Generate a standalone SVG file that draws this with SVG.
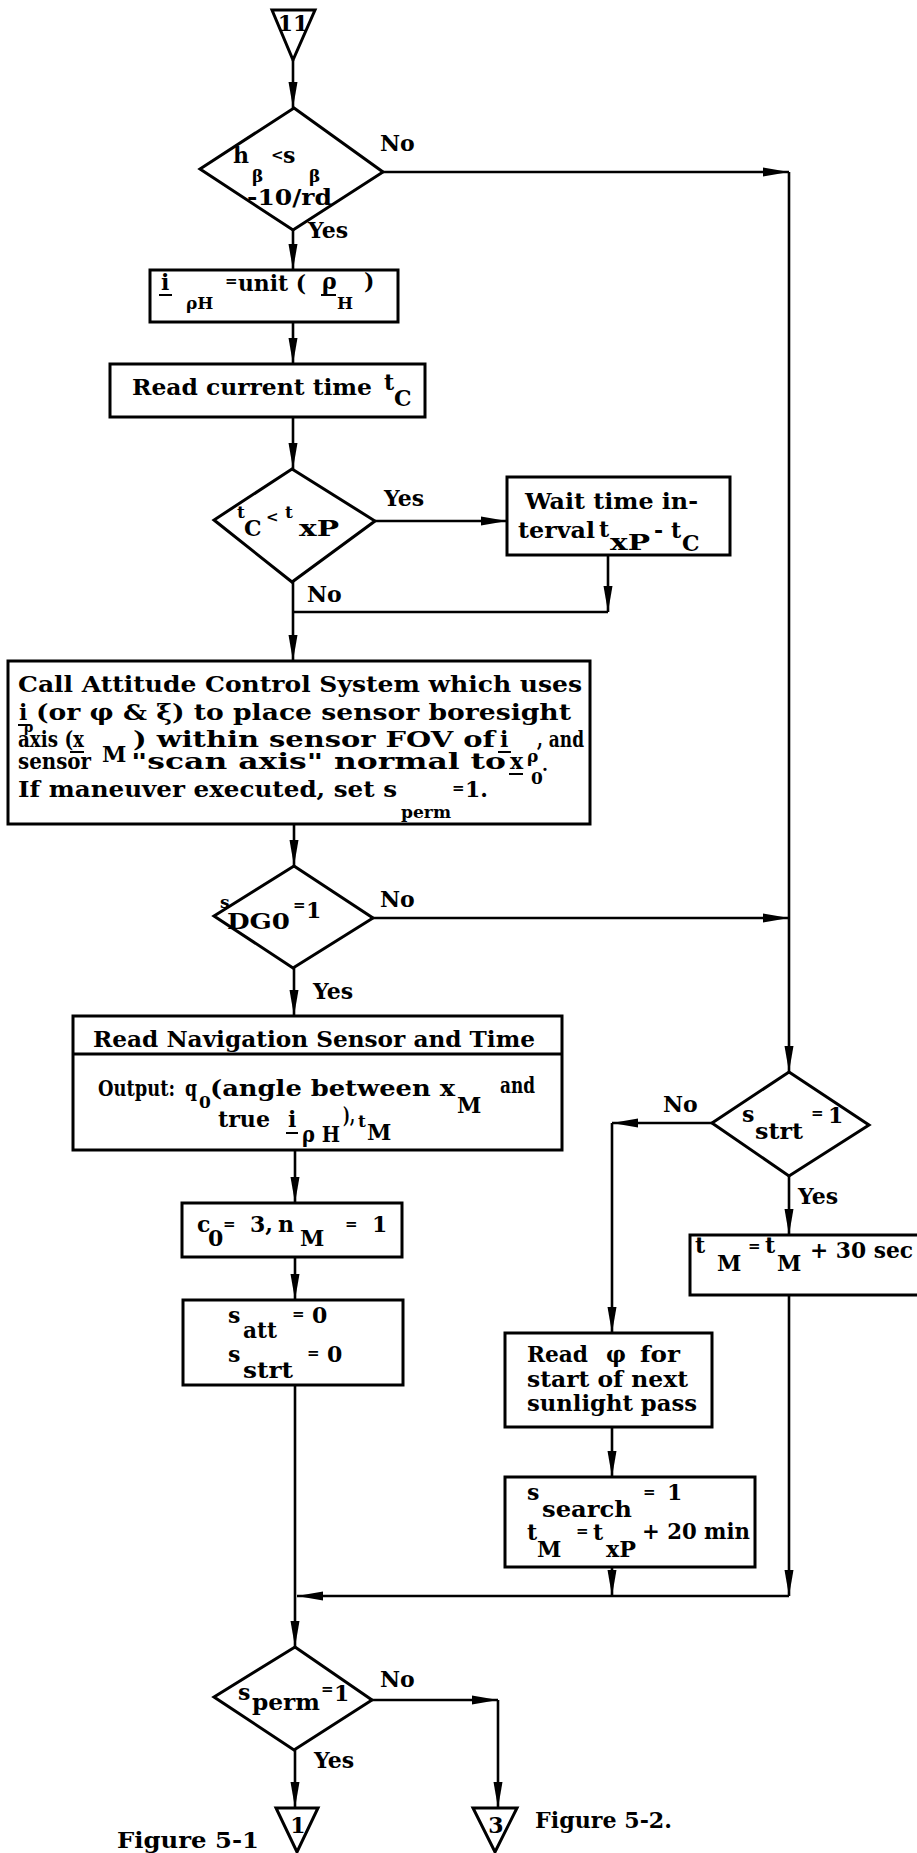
<svg xmlns="http://www.w3.org/2000/svg" width="917" height="1853" viewBox="0 0 917 1853">
<style>
 .bx{fill:#fff;stroke:#000;stroke-width:3}
 .ln{fill:none;stroke:#000;stroke-width:2.6}
 .ar{marker-end:url(#ah)}
 text{font-family:"DejaVu Serif","Liberation Serif",serif;font-weight:bold;fill:#000;stroke:none}
 .m{font-size:22px}
 .sb{font-size:17px}
 .eq{font-size:15px}
 .ul{stroke:#000;stroke-width:2}
 .dv{stroke:#000;stroke-width:3}
</style>
<defs>
<marker id="ah" markerUnits="userSpaceOnUse" markerWidth="26" markerHeight="10" refX="26" refY="5" orient="auto">
<path d="M0,0.5 L26,5 L0,9.5 Z" fill="#000"/>
</marker>
</defs>
<rect width="917" height="1853" fill="#fff"/>

<g id="connectors" class="ln">
<path class="ar" d="M293,60 V108"/>
<path class="ar" d="M293,230 V270"/>
<path class="ar" d="M293,322 V364"/>
<path class="ar" d="M293,417 V469"/>
<path class="ar" d="M375,521 H507"/>
<path class="ar" d="M608,555 V612"/>
<path d="M608,612 H293"/>
<path class="ar" d="M293,582 V661"/>
<path class="ar" d="M294,824 V866"/>
<path class="ar" d="M373,918 H789"/>
<path class="ar" d="M383,172 H789"/>
<path class="ar" d="M789,172 V1072"/>
<path class="ar" d="M294,968 V1016"/>
<path class="ar" d="M295,1150 V1203"/>
<path class="ar" d="M295,1257 V1300"/>
<path d="M295,1385 V1596"/>
<path class="ar" d="M295,1596 V1647"/>
<path class="ar" d="M712,1123 H612"/>
<path class="ar" d="M612,1123 V1333"/>
<path class="ar" d="M789,1176 V1235"/>
<path class="ar" d="M789,1295 V1596"/>
<path class="ar" d="M612,1427 V1477"/>
<path class="ar" d="M612,1567 V1596"/>
<path class="ar" d="M789,1596 H297"/>
<path class="ar" d="M295,1750 V1808"/>
<path class="ar" d="M372,1700 H498"/>
<path class="ar" d="M498,1700 V1808"/>
<g id="edge-labels">
<text class="m" x="380" y="151">No</text>
<text class="m" x="308" y="238">Yes</text>
<text class="m" x="384" y="506">Yes</text>
<text class="m" x="307" y="602">No</text>
<text class="m" x="380" y="907">No</text>
<text class="m" x="313" y="999">Yes</text>
<text class="m" x="663" y="1112">No</text>
<text class="m" x="798" y="1204">Yes</text>
<text class="m" x="380" y="1687">No</text>
<text class="m" x="314" y="1768">Yes</text>
</g>
</g>

<g id="t11">
<path class="bx" d="M272,10 H315 L293,60 Z"/>
<text class="m" x="293" y="31" text-anchor="middle">11</text>
</g>

<g id="d1">
<path class="bx" d="M294,108 L383,172 L293,230 L200,169 Z"/>
<text class="m" x="233" y="163">h</text>
<text class="sb" x="252" y="182">β</text>
<text class="eq" x="271" y="160">&lt;</text>
<text class="m" x="283" y="163">s</text>
<text class="sb" x="309" y="182">β</text>
<text class="m" x="247" y="205" textLength="85" lengthAdjust="spacingAndGlyphs">-10/rd</text>
</g>

<g id="b1">
<rect class="bx" x="150" y="270" width="248" height="52"/>
<text class="m" x="161" y="290">i</text>
<line class="ul" x1="159" y1="295" x2="172" y2="295"/>
<text class="sb" x="186" y="309">ρH</text>
<text class="eq" x="225" y="286">=</text>
<text class="m" x="238" y="291" textLength="68" lengthAdjust="spacingAndGlyphs">unit (</text>
<text class="m" x="322" y="289">ρ</text>
<line class="ul" x1="321" y1="295" x2="336" y2="295"/>
<text class="sb" x="337" y="309">H</text>
<text class="m" x="364" y="289">)</text>
</g>

<g id="b2">
<rect class="bx" x="110" y="364" width="315" height="53"/>
<text class="m" x="132" y="395" textLength="240" lengthAdjust="spacingAndGlyphs">Read current time</text>
<text class="m" x="384" y="390">t</text>
<text class="m" x="394" y="406">C</text>
</g>

<g id="d2">
<path class="bx" d="M292,469 L375,521 L292,582 L214,520 Z"/>
<text class="sb" x="237" y="518">t</text>
<text class="m" x="244" y="536">C</text>
<text class="eq" x="266" y="522">&lt;</text>
<text class="sb" x="285" y="518">t</text>
<text class="m" x="299" y="536" textLength="40" lengthAdjust="spacingAndGlyphs">xP</text>
</g>

<g id="wait">
<rect class="bx" x="507" y="477" width="223" height="78"/>
<text class="m" x="525" y="509" textLength="173" lengthAdjust="spacingAndGlyphs">Wait time in-</text>
<text class="m" x="518" y="538" textLength="77" lengthAdjust="spacingAndGlyphs">terval</text>
<text class="m" x="599" y="537">t</text>
<text class="m" x="610" y="550" textLength="40" lengthAdjust="spacingAndGlyphs">xP</text>
<text class="m" x="654" y="538">-</text>
<text class="m" x="671" y="538">t</text>
<text class="m" x="682" y="551">C</text>
</g>

<g id="call">
<rect class="bx" x="8" y="661" width="582" height="163"/>
<text class="m" x="18" y="692" textLength="564" lengthAdjust="spacingAndGlyphs">Call Attitude Control System which uses</text>
<text class="m" x="19" y="720">i</text>
<line class="ul" x1="18" y1="725" x2="30" y2="725"/>
<text x="24" y="732" font-size="14">ρ</text>
<text class="m" x="36" y="720" textLength="535" lengthAdjust="spacingAndGlyphs">(or φ &amp; ξ) to place sensor boresight</text>
<text class="m" x="18" y="747" textLength="66" lengthAdjust="spacingAndGlyphs">axis (x</text>
<line class="ul" x1="70" y1="752" x2="84" y2="752"/>
<text class="m" x="102" y="762">M</text>
<text class="m" x="133" y="747" textLength="362" lengthAdjust="spacingAndGlyphs">) within sensor FOV of</text>
<text class="m" x="500" y="747">i</text>
<line class="ul" x1="498" y1="752" x2="511" y2="752"/>
<text class="sb" x="527" y="762">ρ</text>
<text class="m" x="537" y="747" textLength="47" lengthAdjust="spacingAndGlyphs">, and</text>
<text class="m" x="18" y="769" textLength="73" lengthAdjust="spacingAndGlyphs">sensor</text>
<text class="m" x="131" y="769" textLength="375" lengthAdjust="spacingAndGlyphs">"scan axis" normal to</text>
<text class="m" x="510" y="769">x</text>
<line class="ul" x1="509" y1="774" x2="523" y2="774"/>
<text class="sb" x="531" y="784">0</text>
<text class="sb" x="542" y="771">.</text>
<text class="m" x="18" y="797" textLength="379" lengthAdjust="spacingAndGlyphs">If maneuver executed, set s</text>
<text class="sb" x="401" y="818" textLength="50" lengthAdjust="spacingAndGlyphs">perm</text>
<text class="eq" x="452" y="793">=</text>
<text class="m" x="465" y="797">1.</text>
</g>

<g id="d3">
<path class="bx" d="M294,866 L373,918 L293,968 L214,916 Z"/>
<text class="sb" x="220" y="908">s</text>
<text class="m" x="227" y="929" textLength="63" lengthAdjust="spacingAndGlyphs">DG0</text>
<text class="eq" x="293" y="910">=</text>
<text class="m" x="306" y="918">1</text>
</g>

<g id="nav">
<rect class="bx" x="73" y="1016" width="489" height="134"/>
<line class="dv" x1="73" y1="1054" x2="562" y2="1054"/>
<text class="m" x="93" y="1047" textLength="442" lengthAdjust="spacingAndGlyphs">Read Navigation Sensor and Time</text>
<text class="m" x="98" y="1096" textLength="77" lengthAdjust="spacingAndGlyphs">Output:</text>
<text class="m" x="185" y="1096" textLength="12" lengthAdjust="spacingAndGlyphs">q</text>
<text class="sb" x="199" y="1108">0</text>
<text class="m" x="210" y="1096" textLength="245" lengthAdjust="spacingAndGlyphs">(angle between x</text>
<text class="m" x="457" y="1113">M</text>
<text class="m" x="500" y="1093" textLength="35" lengthAdjust="spacingAndGlyphs">and</text>
<text class="m" x="218" y="1127" textLength="52" lengthAdjust="spacingAndGlyphs">true</text>
<text class="m" x="288" y="1127">i</text>
<line class="ul" x1="286" y1="1133" x2="298" y2="1133"/>
<text class="m" x="302" y="1142" textLength="38" lengthAdjust="spacingAndGlyphs">ρ H</text>
<text class="m" x="343" y="1123" textLength="12" lengthAdjust="spacingAndGlyphs">),</text>
<text class="sb" x="358" y="1127">t</text>
<text class="m" x="367" y="1140">M</text>
</g>

<g id="c0box">
<rect class="bx" x="182" y="1203" width="220" height="54"/>
<text class="m" x="197" y="1232">c</text>
<text class="m" x="208" y="1246">0</text>
<text class="eq" x="223" y="1229">=</text>
<text class="m" x="250" y="1232">3,</text>
<text class="m" x="278" y="1232">n</text>
<text class="m" x="300" y="1246">M</text>
<text class="eq" x="345" y="1229">=</text>
<text class="m" x="372" y="1232">1</text>
</g>

<g id="sattbox">
<rect class="bx" x="183" y="1300" width="220" height="85"/>
<text class="m" x="228" y="1323">s</text>
<text class="m" x="243" y="1338" textLength="34" lengthAdjust="spacingAndGlyphs">att</text>
<text class="eq" x="292" y="1319">=</text>
<text class="m" x="312" y="1323">0</text>
<text class="m" x="228" y="1362">s</text>
<text class="m" x="243" y="1378" textLength="50" lengthAdjust="spacingAndGlyphs">strt</text>
<text class="eq" x="307" y="1358">=</text>
<text class="m" x="327" y="1362">0</text>
</g>

<g id="d4strt">
<path class="bx" d="M789,1072 L869,1125 L789,1176 L712,1123 Z"/>
<text class="m" x="742" y="1122">s</text>
<text class="m" x="755" y="1139" textLength="48" lengthAdjust="spacingAndGlyphs">strt</text>
<text class="eq" x="811" y="1118">=</text>
<text class="m" x="828" y="1123">1</text>
</g>

<g id="tmbox">
<rect class="bx" x="690" y="1235" width="240" height="60"/>
<text class="m" x="695" y="1253">t</text>
<text class="m" x="717" y="1271">M</text>
<text class="eq" x="748" y="1251">=</text>
<text class="m" x="765" y="1253">t</text>
<text class="m" x="777" y="1271">M</text>
<text class="m" x="810" y="1258" textLength="103" lengthAdjust="spacingAndGlyphs">+ 30 sec</text>
</g>

<g id="readphi">
<rect class="bx" x="505" y="1333" width="207" height="94"/>
<text class="m" x="527" y="1362" textLength="61" lengthAdjust="spacingAndGlyphs">Read</text>
<text class="m" x="606" y="1362">φ</text>
<text class="m" x="640" y="1362" textLength="40" lengthAdjust="spacingAndGlyphs">for</text>
<text class="m" x="527" y="1387" textLength="161" lengthAdjust="spacingAndGlyphs">start of next</text>
<text class="m" x="527" y="1411" textLength="170" lengthAdjust="spacingAndGlyphs">sunlight pass</text>
</g>

<g id="searchbox">
<rect class="bx" x="505" y="1477" width="250" height="90"/>
<text class="m" x="527" y="1500">s</text>
<text class="m" x="542" y="1517" textLength="90" lengthAdjust="spacingAndGlyphs">search</text>
<text class="eq" x="643" y="1497">=</text>
<text class="m" x="667" y="1500">1</text>
<text class="m" x="527" y="1540">t</text>
<text class="m" x="537" y="1557">M</text>
<text class="eq" x="576" y="1536">=</text>
<text class="m" x="593" y="1540">t</text>
<text class="m" x="606" y="1557" textLength="30" lengthAdjust="spacingAndGlyphs">xP</text>
<text class="m" x="642" y="1539" textLength="108" lengthAdjust="spacingAndGlyphs">+ 20 min</text>
</g>

<g id="d5perm">
<path class="bx" d="M295,1647 L372,1700 L294,1750 L214,1697 Z"/>
<text class="m" x="238" y="1700">s</text>
<text class="m" x="252" y="1710" textLength="68" lengthAdjust="spacingAndGlyphs">perm</text>
<text class="eq" x="321" y="1694">=</text>
<text class="m" x="334" y="1701">1</text>
</g>

<g id="t1">
<path class="bx" d="M276,1808 H318 L297,1852 Z"/>
<text class="m" x="298" y="1833" text-anchor="middle">1</text>
</g>

<g id="t3">
<path class="bx" d="M473,1808 H517 L495,1852 Z"/>
<text class="m" x="496" y="1833" text-anchor="middle">3</text>
</g>

<g id="captions">
<text class="m" x="117" y="1848" textLength="142" lengthAdjust="spacingAndGlyphs">Figure 5-1</text>
<text class="m" x="535" y="1828" textLength="137" lengthAdjust="spacingAndGlyphs">Figure 5-2.</text>
</g>
</svg>
